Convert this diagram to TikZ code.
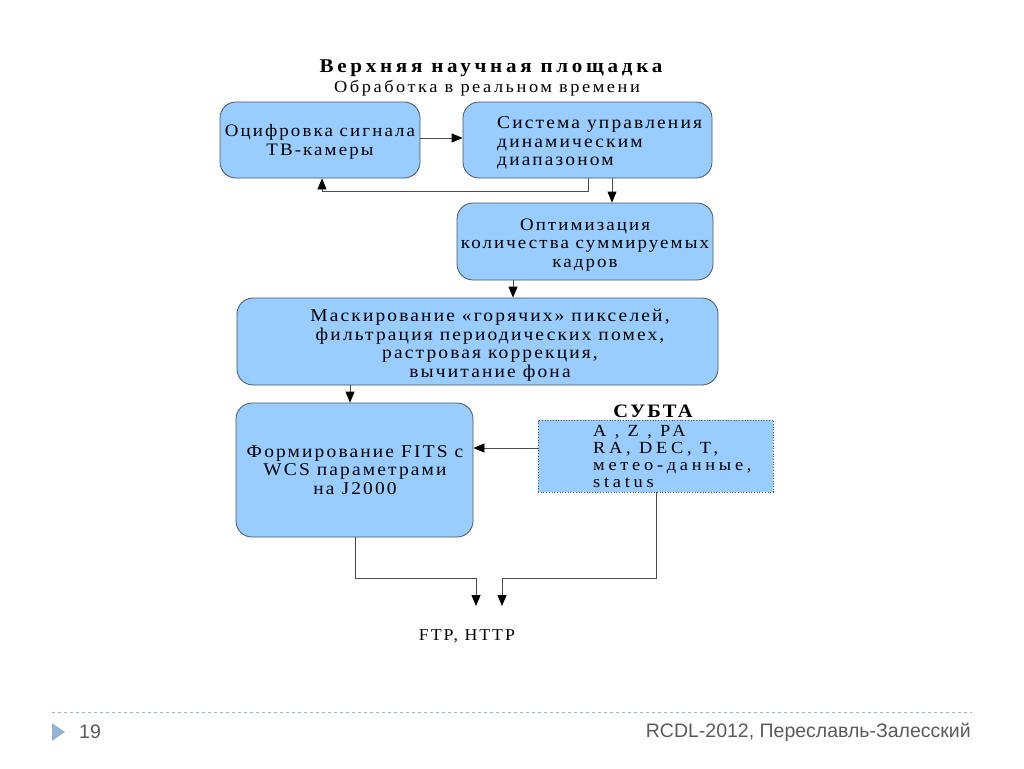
\documentclass[tikz,border=0pt]{standalone}
\usepackage{fontspec}
\setmainfont{Liberation Serif}[LetterSpace=12, FakeStretch=1.08]
\newfontfamily\wideserif{Liberation Serif}[LetterSpace=22, FakeStretch=1.08]
\newfontfamily\titleserif{Liberation Serif}[LetterSpace=19, FakeStretch=1.08]
\newfontfamily\subserif{Liberation Serif}[LetterSpace=15, FakeStretch=1.08]
\newfontfamily\footfont{Liberation Sans}
\usetikzlibrary{arrows.meta}
\definecolor{boxfill}{RGB}{153,204,255}
\definecolor{boxdraw}{RGB}{70,85,100}
\definecolor{footgray}{RGB}{90,90,90}
\definecolor{footline}{RGB}{160,180,200}
\definecolor{marker}{RGB}{150,180,210}
\tikzset{
  blockbox/.style={draw=boxdraw, fill=boxfill, line width=0.8pt, rounded corners=16pt, inner sep=0pt},
  databox/.style={draw=boxdraw, fill=boxfill, line width=0.7pt, dotted, inner sep=0pt},
  boxtext/.style={font=\fontsize{18}{18.5}\selectfont, align=center, inner sep=0pt},
  conn/.style={draw=black!70, line width=0.8pt},
  arr/.style={conn, -{Triangle[length=11pt,width=9pt,fill=black,color=black]}},
  foot/.style={font=\footfont\fontsize{19.5}{22}\selectfont, text=footgray, inner sep=0pt},
}
\begin{document}
\begin{tikzpicture}[x=1pt,y=-1pt]
\useasboundingbox (0,0) rectangle (1024,768);
% titles
\node[font=\titleserif\fontsize{19.5}{22}\selectfont\bfseries, inner sep=0pt] (title) at (491,68) {Верхняя научная площадка};
\node[font=\subserif\fontsize{17}{19}\selectfont, inner sep=0pt] (subtitle) at (487,88) {Обработка в реальном времени};
% boxes
\node[blockbox, minimum width=200pt, minimum height=76pt] (b1) at (320,140) {};
\node[blockbox, minimum width=249pt, minimum height=76pt] (b2) at (587.5,140) {};
\node[blockbox, minimum width=256pt, minimum height=77pt] (b3) at (585,241.5) {};
\node[blockbox, minimum width=481pt, minimum height=87pt] (b4) at (477.5,341.5) {};
\node[blockbox, minimum width=237pt, minimum height=134pt] (b5) at (354.5,470) {};
\node[databox, minimum width=235pt, minimum height=72pt] (sub) at (655.5,456) {};
% texts
\node[boxtext, font=\fontsize{17.5}{18.5}\selectfont] (t1) at (320,142) {Оцифровка сигнала\\ТВ-камеры};
\node[boxtext, align=left, anchor=west] (t2) at (497,143) {Система управления\\динамическим\\диапазоном};
\node[boxtext, font=\fontsize{17.5}{18.5}\selectfont] (t3) at (585,245) {Оптимизация\\количества суммируемых\\кадров};
\node[boxtext] (t4) at (490,345) {Маскирование «горячих» пикселей,\\фильтрация периодических помех,\\растровая коррекция,\\вычитание фона};
\node[boxtext] (t5) at (355,470) {Формирование FITS с\\WCS параметрами\\на J2000};
\node[font=\fontsize{19}{21}\selectfont\bfseries, inner sep=0pt] (subtitle2) at (653,411) {СУБТА};
\node[font=\wideserif\fontsize{17}{17}\selectfont, align=left, anchor=west, inner sep=0pt] (t6) at (593,456) {A , Z , PA\\RA, DEC, T,\\метео-данные,\\status};
\node[font=\fontsize{16.5}{19}\selectfont, inner sep=0pt] (ftp) at (467,636) {FTP, HTTP};
% connectors
\draw[arr] (b1.east |- 0,138) -- (b2.west |- 0,138);
\coordinate (fbA) at (588,191);
\coordinate (fbB) at (322,191);
\draw[arr] (b2.south -| fbA) -- (fbA) -- (fbB) -- (b1.south -| fbB);
\draw[arr] (b2.south -| 612,0) -- (b3.north -| 612,0);
\draw[arr] (b3.south -| 513,0) -- (b4.north -| 513,0);
\draw[arr] (b4.south -| 350,0) -- (b5.north -| 350,0);
\draw[arr] (sub.west |- 0,448) -- (b5.east |- 0,448);
\coordinate (o1) at (476,606);
\coordinate (o2) at (502,606);
\draw[arr] (b5.south -| 355,0) -- (355,578) -- (476,578) -- (o1);
\draw[arr] (sub.south -| 656,0) -- (656,578) -- (502,578) -- (o2);
% footer
\draw[footline, dashed, line width=0.6pt] (52,712) -- (972,712);
\fill[marker] (52,723) -- (65,732) -- (52,741) -- cycle;
\node[foot, anchor=west] (pg) at (79,732) {19};
\node[foot, anchor=east] (conf) at (971,732) {RCDL-2012, Переславль-Залесский};
\end{tikzpicture}
\end{document}
